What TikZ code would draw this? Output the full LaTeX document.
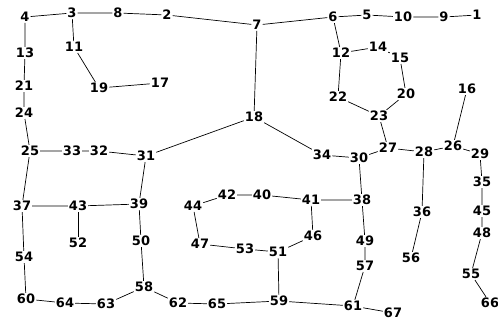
\documentclass[tikz,border=0pt]{standalone}
\usepackage{fontspec}
\setmainfont{DejaVu Sans}
\usepackage{tikz}

\begin{document}
\begin{tikzpicture}[
  x=1pt, y=-1pt,
  v/.style={inner sep=1pt, font=\fontsize{13}{13}\selectfont\bfseries},
  e/.style={draw, line width=0.7pt}
]
\useasboundingbox (0,0) rectangle (498,322);
% top row
\node[v] (4) at (25,17) {4};
\node[v] (3) at (72,13) {3};
\node[v] (8) at (118,13) {8};
\node[v] (2) at (167,15) {2};
\node[v] (7) at (257,25) {7};
\node[v] (6) at (333,17) {6};
\node[v] (5) at (367,15) {5};
\node[v] (10) at (403,17) {10};
\node[v] (9) at (444,17) {9};
\node[v] (1) at (477,15) {1};
% upper part
\node[v] (13) at (25,53) {13};
\node[v] (11) at (74,47) {11};
\node[v] (12) at (341,53) {12};
\node[v] (14) at (378,47) {14};
\node[v] (15) at (400,58) {15};
\node[v] (21) at (24,86) {21};
\node[v] (19) at (99,88) {19};
\node[v] (17) at (160,83) {17};
\node[v] (16) at (467,89) {16};
\node[v] (22) at (338,97) {22};
\node[v] (20) at (406,94) {20};
\node[v] (24) at (24,113) {24};
\node[v] (18) at (254,117) {18};
\node[v] (23) at (379,116) {23};
% middle row
\node[v] (25) at (30,151) {25};
\node[v] (33) at (72,151) {33};
\node[v] (32) at (99,151) {32};
\node[v] (31) at (146,156) {31};
\node[v] (34) at (322,155) {34};
\node[v] (30) at (359,158) {30};
\node[v] (27) at (388,148) {27};
\node[v] (28) at (424,152) {28};
\node[v] (26) at (453,146) {26};
\node[v] (29) at (480,154) {29};
\node[v] (35) at (482,182) {35};
% lower part
\node[v] (37) at (22,206) {37};
\node[v] (43) at (78,206) {43};
\node[v] (39) at (139,204) {39};
\node[v] (44) at (193,206) {44};
\node[v] (42) at (227,195) {42};
\node[v] (40) at (262,195) {40};
\node[v] (41) at (311,200) {41};
\node[v] (38) at (362,200) {38};
\node[v] (52) at (78,243) {52};
\node[v] (50) at (141,241) {50};
\node[v] (47) at (200,244) {47};
\node[v] (53) at (245,249) {53};
\node[v] (51) at (278,252) {51};
\node[v] (46) at (313,236) {46};
\node[v] (36) at (422,212) {36};
\node[v] (45) at (482,211) {45};
\node[v] (49) at (365,241) {49};
\node[v] (48) at (482,233) {48};
\node[v] (54) at (24,257) {54};
\node[v] (57) at (365,266) {57};
\node[v] (56) at (411,258) {56};
\node[v] (55) at (471,274) {55};
% bottom row
\node[v] (58) at (144,287) {58};
\node[v] (60) at (26,299) {60};
\node[v] (64) at (65,303) {64};
\node[v] (63) at (106,304) {63};
\node[v] (62) at (178,303) {62};
\node[v] (65) at (217,304) {65};
\node[v] (59) at (279,301) {59};
\node[v] (61) at (353,306) {61};
\node[v] (67) at (393,313) {67};
\node[v] (66) at (490,303) {66};

% edges
\path[e] (4) -- (3) -- (8) -- (2) -- (7) -- (6) -- (5) -- (10) -- (9) -- (1);
\path[e] (4) -- (13) -- (21) -- (24) -- (25) -- (33) -- (32) -- (31) -- (18) -- (7);
\path[e] (3) -- (11) -- (19) -- (17);
\path[e] (18) -- (34) -- (30) -- (27) -- (28) -- (26) -- (29) -- (35) -- (45) -- (48) -- (55) -- (66);
\path[e] (6) -- (12) -- (14) -- (15) -- (20) -- (23) -- (22) -- (12);
\path[e] (23) -- (27);
\path[e] (26) -- (16);
\path[e] (28) -- (36) -- (56);
\path[e] (30) -- (38) -- (41) -- (40) -- (42) -- (44) -- (47) -- (53) -- (51) -- (46) -- (41);
\path[e] (38) -- (49) -- (57) -- (61) -- (67);
\path[e] (61) -- (59) -- (65) -- (62) -- (58) -- (63) -- (64) -- (60) -- (54) -- (37) -- (25);
\path[e] (51) -- (59);
\path[e] (31) -- (39) -- (43) -- (37);
\path[e] (43) -- (52);
\path[e] (39) -- (50) -- (58);
\end{tikzpicture}
\end{document}
